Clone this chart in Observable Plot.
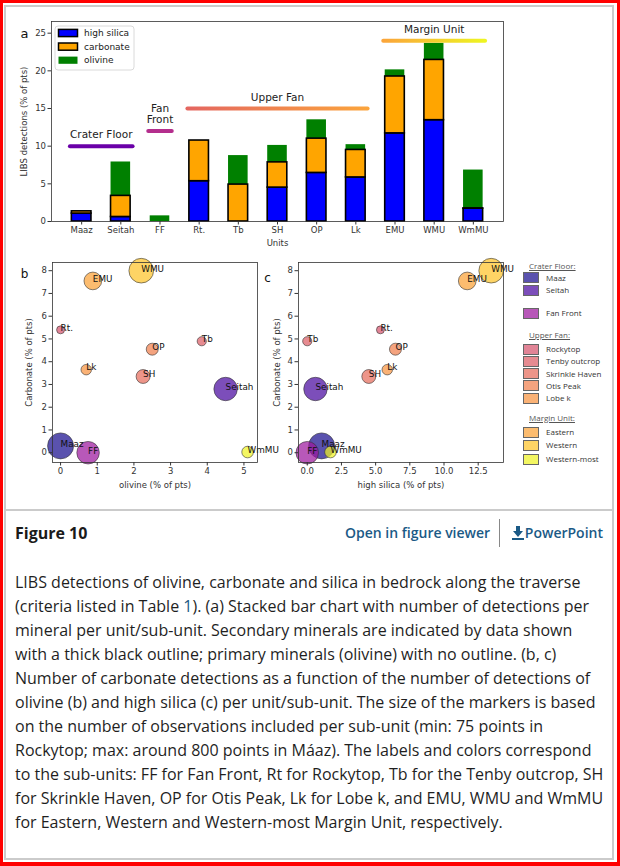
<!DOCTYPE html>
<html>
<head>
<meta charset="utf-8">
<script src="https://cdn.jsdelivr.net/npm/d3@7"></script>
<script src="https://cdn.jsdelivr.net/npm/@observablehq/plot@0.6"></script>
<style>
  html, body { margin: 0; padding: 0; background: #fff; }
  #page { position: relative; width: 620px; height: 866px; overflow: hidden; background: #fff; }
  #redframe { position: absolute; left: 0; top: 0; width: 620px; height: 866px; box-sizing: border-box; border: 3px solid #ff0000; border-right-width: 3px; border-bottom-width: 4px; pointer-events: none; }
  #greybox { position: absolute; left: 4px; top: 5px; width: 610px; height: 855px; box-sizing: border-box; border: 2px solid #cbcbcb; }
  #divider { position: absolute; left: 4px; top: 509px; width: 610px; height: 2px; background: #cbcbcb; }
  .panel { position: absolute; }
  .panel svg { overflow: visible; }
  #legend2 { position: absolute; left: 523px; top: 258px; font-family: "Open Sans", "Noto Sans", sans-serif; font-size: 8px; color: #333; }
  .lg-title { position: absolute; left: 6px; color: #555; text-decoration: underline; white-space: nowrap; }
  .lg-sw { position: absolute; left: 0; width: 16px; height: 11px; box-sizing: border-box; border: 1px solid #666; }
  .lg-tx { position: absolute; left: 23px; white-space: nowrap; }
  #figtitle { position: absolute; left: 15px; top: 521px; font-family: "Open Sans", sans-serif; font-weight: 700; font-size: 16px; line-height: 24px; color: #1a1a1a; }
  #viewer { position: absolute; left: 345px; top: 521px; font-family: "Open Sans", sans-serif; font-weight: 600; font-size: 14px; line-height: 24px; color: #1b5a86; white-space: nowrap; }
  #vdiv { position: absolute; left: 499px; top: 519px; width: 1px; height: 28px; background: #888; }
  #ppt { position: absolute; right: 17px; top: 521px; font-family: "Open Sans", sans-serif; font-weight: 600; font-size: 14px; line-height: 24px; color: #1b5a86; white-space: nowrap; }
  #caption { position: absolute; left: 15px; top: 570px; font-family: "Open Sans", sans-serif; font-size: 16px; line-height: 24px; color: #1f1f1f; white-space: nowrap; }
  #caption .lnk { color: #1b5a86; }
</style>
</head>
<body>
<div id="page">
  <div id="greybox"></div>
  <div id="divider"></div>
  <div id="panelA" class="panel" style="left:0px; top:0px;"></div>
  <div id="panelB" class="panel" style="left:0px; top:250px;"></div>
  <div id="panelC" class="panel" style="left:262px; top:250px;"></div>
  <div id="legend2"></div>
  <div id="figtitle">Figure 10</div>
  <div id="viewer">Open in figure viewer</div>
  <div id="vdiv"></div>
  <div id="ppt"><svg width="12" height="14" viewBox="0 0 12 14" style="vertical-align:-2px;margin-right:1px"><path d="M4 0h4v5h3l-5 6-5-6h3z" fill="#1b5a86"/><rect x="0" y="12" width="12" height="2" fill="#1b5a86"/></svg>PowerPoint</div>
  <div id="caption">LIBS detections of olivine, carbonate and silica in bedrock along the traverse<br>(criteria listed in Table <span class="lnk">1</span>). (a) Stacked bar chart with number of detections per<br>mineral per unit/sub-unit. Secondary minerals are indicated by data shown<br>with a thick black outline; primary minerals (olivine) with no outline. (b, c)<br>Number of carbonate detections as a function of the number of detections of<br>olivine (b) and high silica (c) per unit/sub-unit. The size of the markers is based<br>on the number of observations included per sub-unit (min: 75 points in<br>Rockytop; max: around 800 points in Máaz). The labels and colors correspond<br>to the sub-units: FF for Fan Front, Rt for Rockytop, Tb for the Tenby outcrop, SH<br>for Skrinkle Haven, OP for Otis Peak, Lk for Lobe k, and EMU, WMU and WmMU<br>for Eastern, Western and Western-most Margin Unit, respectively.</div>
  <div id="redframe"></div>
</div>
<script>
// ---------------- DATA ----------------
const units = ["Maaz", "Seitah", "FF", "Rt.", "Tb", "SH", "OP", "Lk", "EMU", "WMU", "WmMU"];
const highSilica = [1.05, 0.6, 0, 5.35, 0, 4.5, 6.45, 5.85, 11.7, 13.45, 1.7];
const carbonate  = [0.3, 2.8, 0, 5.4, 4.9, 3.35, 4.55, 3.65, 7.55, 8.0, 0.03];
const olivine    = [0, 4.5, 0.75, 0, 3.85, 2.25, 2.5, 0.7, 0.88, 2.2, 5.1];
const nPoints    = [800, 650, 600, 75, 100, 230, 170, 130, 370, 720, 160];
const minerals = ["high silica", "carbonate", "olivine"];
const yTicksA = [0, 5, 10, 15, 20, 25];
const xTicksB = [0, 1, 2, 3, 4, 5];
const xTicksC = [0, 2.5, 5, 7.5, 10, 12.5];
const yTicksBC = [0, 1, 2, 3, 4, 5, 6, 7, 8];

// geological units (index ranges along the bar axis) and their level on panel a
const groupNames = ["Crater Floor", "Fan\nFront", "Upper Fan", "Margin Unit"];
const groupStart = [-0.3, 1.7, 2.7, 7.7];
const groupEnd   = [1.3, 2.3, 7.3, 10.3];
const groupLevel = [10, 12, 15, 24];

// legend groups (panels b, c)
const legendTitles = ["Crater Floor:", "Upper Fan:", "Margin Unit:"];
const legendNames = ["Maaz", "Seitah", "Fan Front", "Rockytop", "Tenby outcrop", "Skrinkle Haven", "Otis Peak", "Lobe k", "Eastern", "Western", "Western-most"];

// ---------------- STYLES ----------------
const mineralFill = {"high silica": "#0000ff", "carbonate": "#ffa500", "olivine": "#008000"};
const mineralStroke = {"high silica": "#000", "carbonate": "#000", "olivine": "none"};
const unitColors = ["#1a0f8f", "#4a0aa0", "#9c179e", "#d5546e", "#dc5e66", "#e66c5c", "#f0804e", "#f89441", "#fba238", "#fdc42a", "#eef226"];
const groupColors = ["#6a00a8", "#b42e8d", "url(#gradUpper)", "url(#gradMargin)"];
const FONT = "DejaVu Sans, sans-serif";

// ---------------- PANEL A ----------------
const stacked = [];
units.forEach((u, i) => {
  let base = 0;
  [highSilica[i], carbonate[i], olivine[i]].forEach((v, k) => {
    stacked.push({unit: u, i, mineral: minerals[k], y1: base, y2: base + v});
    base += v;
  });
});
const groups = groupNames.map((name, k) => ({name, x1: groupStart[k], x2: groupEnd[k], y: groupLevel[k], color: groupColors[k]}));

const plotA = Plot.plot({
  width: 520, height: 250,
  marginLeft: 51, marginRight: 17, marginTop: 21, marginBottom: 29,
  style: {fontFamily: FONT, fontSize: "8.5px", color: "#333", background: "transparent", overflow: "visible"},
  x: {domain: [-0.77, 10.77], ticks: units.map((_, i) => i), tickFormat: i => units[i], tickSize: 3.5, tickPadding: 2, label: null},
  y: {domain: [0, 26.55], ticks: yTicksA, tickSize: 3.5, tickPadding: 2, label: null},
  marks: [
    Plot.rect(stacked.filter(d => d.mineral === "olivine"), {x1: d => d.i - 0.25, x2: d => d.i + 0.25, y1: "y1", y2: "y2", fill: d => mineralFill[d.mineral]}),
    Plot.rect(stacked.filter(d => d.mineral !== "olivine"), {x1: d => d.i - 0.25, x2: d => d.i + 0.25, y1: "y1", y2: "y2", fill: d => mineralFill[d.mineral], stroke: "#000", strokeWidth: 1.6}),
    ...groups.map(g => Plot.link([g], {x1: "x1", x2: "x2", y1: "y", y2: "y", stroke: g.color, strokeWidth: 4, strokeLinecap: "round"})),
    Plot.text(groups, {x: d => (d.x1 + d.x2) / 2, y: "y", text: "name", lineAnchor: "bottom", dy: -8, fontSize: 10.5, fill: "#222", lineHeight: 1.05}),
    Plot.frame({stroke: "#333", strokeWidth: 0.8}),
    Plot.axisX({ticks: units.map((_, i) => i), tickFormat: i => units[i], tickSize: 3.5, tickPadding: 2, label: null}),
    Plot.axisY({ticks: yTicksA, tickSize: 3.5, tickPadding: 2, label: null}),
    Plot.text(["Units"], {frameAnchor: "bottom", dy: 22, textAnchor: "middle", lineAnchor: "middle", text: d => d, fontSize: 8.5, fill: "#333"}),
    Plot.text(["LIBS detections (% of pts)"], {frameAnchor: "left", dx: -27, rotate: -90, textAnchor: "middle", lineAnchor: "middle", text: d => d, fontSize: 8.5, fill: "#333"}),
    Plot.text(["a"], {frameAnchor: "top-left", dx: -27, dy: 12, textAnchor: "middle", lineAnchor: "middle", text: d => d, fontSize: 13, fill: "#111"})
  ]
});
document.getElementById("panelA").appendChild(plotA);

// gradients for the unit bars (in user space, computed from the x scale)
{
  const sx = plotA.scale("x");
  const svg = d3.select(plotA);
  const defs = svg.insert("defs", ":first-child");
  const mk = (id, a, b, c1, c2) => {
    const g = defs.append("linearGradient").attr("id", id).attr("gradientUnits", "userSpaceOnUse")
      .attr("x1", sx.apply(a)).attr("x2", sx.apply(b)).attr("y1", 0).attr("y2", 0);
    g.append("stop").attr("offset", "0%").attr("stop-color", c1);
    g.append("stop").attr("offset", "100%").attr("stop-color", c2);
  };
  mk("gradUpper", groupStart[2], groupEnd[2], "#e46660", "#fba43c");
  mk("gradMargin", groupStart[3], groupEnd[3], "#fba53a", "#eef522");

  // legend inside panel a
  const L = svg.append("g").attr("font-family", FONT).attr("font-size", 9).attr("fill", "#222").attr("text-anchor", "start");
  L.append("rect").attr("x", 55).attr("y", 26).attr("width", 79).attr("height", 44).attr("rx", 3)
    .attr("fill", "#fff").attr("fill-opacity", 0.85).attr("stroke", "#d0d0d0").attr("stroke-width", 0.8);
  minerals.forEach((m, k) => {
    const cy = 33 + k * 13.6;
    L.append("rect").attr("x", 58.5).attr("y", cy - 3.6).attr("width", 19).attr("height", 7.2)
      .attr("fill", mineralFill[m]).attr("stroke", mineralStroke[m]).attr("stroke-width", 1.5);
    L.append("text").attr("x", 84).attr("y", cy).attr("dy", "0.35em").attr("text-anchor", "start").text(m);
  });
}

// ---------------- PANELS B, C ----------------
const pts = units.map((u, i) => ({unit: u, i, hs: highSilica[i], carb: carbonate[i], ol: olivine[i], n: nPoints[i], color: unitColors[i]}));

function scatter(xField, xDomain, xTicks, xFormat, xLabel, letter, opts) {
  return Plot.plot({
    width: opts.width, height: 250,
    marginLeft: opts.ml, marginRight: opts.mr, marginTop: 12, marginBottom: 38,
    style: {fontFamily: FONT, fontSize: "8.5px", color: "#333", background: "transparent", overflow: "visible"},
    x: {domain: xDomain, label: null},
    y: {domain: [-0.43, 8.36], label: null},
    r: {type: "sqrt", domain: [0, 800], range: [0, 13]},
    marks: [
      Plot.dot(pts, {x: xField, y: "carb", r: "n", fill: "color", fillOpacity: 0.72, stroke: "#333", strokeOpacity: 0.75, strokeWidth: 0.8}),
      Plot.text(pts, {x: xField, y: "carb", text: "unit", textAnchor: "start", lineAnchor: "middle", dy: -2, fontSize: 8.8, fill: "#111"}),
      Plot.frame({stroke: "#333", strokeWidth: 0.8}),
      Plot.axisX({ticks: xTicks, tickFormat: xFormat, tickSize: 3.5, tickPadding: 2, label: null}),
      Plot.axisY({ticks: yTicksBC, tickSize: 3.5, tickPadding: 2, label: null}),
      Plot.text([xLabel], {frameAnchor: "bottom", dy: 23, textAnchor: "middle", lineAnchor: "middle", text: d => d, fontSize: 8.5, fill: "#333"}),
      Plot.text(["Carbonate (% of pts)"], {frameAnchor: "left", dx: opts.ydx, rotate: -90, textAnchor: "middle", lineAnchor: "middle", text: d => d, fontSize: 8.5, fill: "#333"}),
      Plot.text([letter], {frameAnchor: "top-left", dx: opts.ldx, dy: opts.ldy, textAnchor: "middle", lineAnchor: "middle", text: d => d, fontSize: 12, fill: "#111"})
    ]
  });
}
const plotB = scatter("ol", [-0.22, 5.37], xTicksB, d3.format("d"), "olivine (% of pts)", "b", {width: 262, ml: 52, mr: 5, ydx: -23, ldx: -28, ldy: 12});
document.getElementById("panelB").appendChild(plotB);
const plotC = scatter("hs", [-0.64, 14.35], xTicksC, d3.format(".1f"), "high silica (% of pts)", "c", {width: 258, ml: 36, mr: 17, ydx: -21, ldx: -31, ldy: 16});
document.getElementById("panelC").appendChild(plotC);

// ---------------- RIGHT LEGEND ----------------
{
  const lg = document.getElementById("legend2");
  const rows = [
    {t: 0, y: 8}, {s: 0, y: 19.7}, {s: 1, y: 32},
    {s: 2, y: 55},
    {t: 1, y: 77}, {s: 3, y: 91}, {s: 4, y: 103}, {s: 5, y: 115.7}, {s: 6, y: 127.7}, {s: 7, y: 140},
    {t: 2, y: 160}, {s: 8, y: 174}, {s: 9, y: 187}, {s: 10, y: 201}
  ];
  rows.forEach(r => {
    if (r.t !== undefined) {
      const d = document.createElement("div");
      d.className = "lg-title"; d.style.top = (r.y - 6) + "px"; d.textContent = legendTitles[r.t];
      lg.appendChild(d);
    } else {
      const sw = document.createElement("div");
      sw.className = "lg-sw"; sw.style.top = (r.y - 5.5) + "px";
      sw.style.background = d3.color(unitColors[r.s]).copy({opacity: 0.72}).formatRgb();
      lg.appendChild(sw);
      const tx = document.createElement("div");
      tx.className = "lg-tx"; tx.style.top = (r.y - 6) + "px"; tx.textContent = legendNames[r.s];
      lg.appendChild(tx);
    }
  });
}
</script>
</body>
</html>
